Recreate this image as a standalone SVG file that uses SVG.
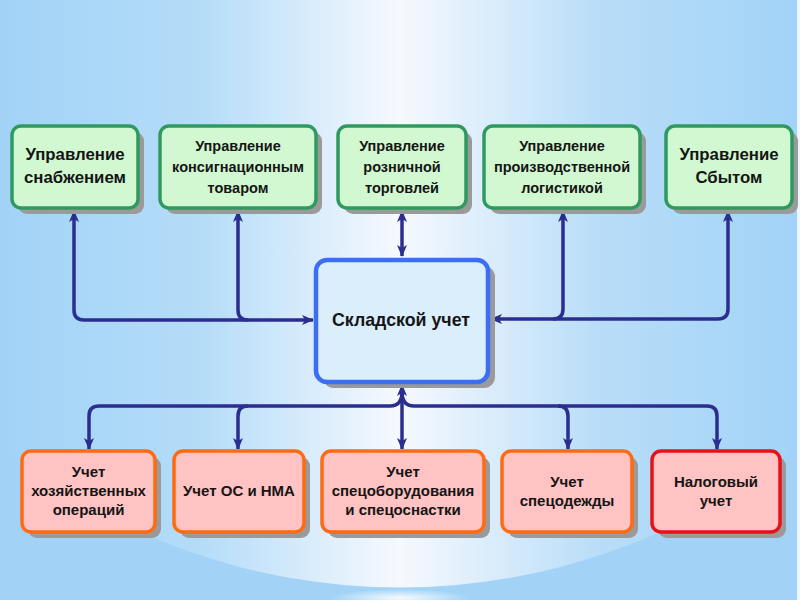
<svg xmlns="http://www.w3.org/2000/svg" width="800" height="600" viewBox="0 0 800 600">
<defs>
  <linearGradient id="bg" x1="0" y1="0" x2="1" y2="0">
    <stop offset="0" stop-color="#a2d3f7"/>
    <stop offset="0.25" stop-color="#b4dcf8"/>
    <stop offset="0.5" stop-color="#f6f9fe"/>
    <stop offset="0.75" stop-color="#b8ddf8"/>
    <stop offset="1" stop-color="#a2d3f7"/>
  </linearGradient>
  <radialGradient id="glow" cx="0.5" cy="0.5" r="0.5">
    <stop offset="0" stop-color="#ffffff" stop-opacity="0.9"/>
    <stop offset="1" stop-color="#ffffff" stop-opacity="0"/>
  </radialGradient>
  <marker id="ah" viewBox="0 0 12 10" refX="11" refY="5" markerWidth="12" markerHeight="10" markerUnits="userSpaceOnUse" orient="auto-start-reverse">
    <path d="M0,0 L12,5 L0,10 L3,5 z" fill="#2b2e90"/>
  </marker>
  <style>
    .shadow { fill: #9a9a9a; }
    .top { fill: #d2f8d2; stroke: #2f9a60; stroke-width: 3.5; }
    .mid { fill: #dbeefc; stroke: #3b6ef5; stroke-width: 4.5; }
    .bot { fill: #ffc3c3; stroke: #ff6a12; stroke-width: 3.5; }
    .botred { fill: #ffc3c3; stroke: #ea0f18; stroke-width: 3.5; }
    .t { font-family: "Liberation Sans", Arial, sans-serif; font-weight: bold; fill: #151515; text-anchor: middle; }
    .t14 { font-size: 14.5px; }
    .t15 { font-size: 16.8px; }
    .t16 { font-size: 17.8px; }
    .b14 { font-size: 15px; }
    .conn { fill: none; stroke: #2b2e90; stroke-width: 3.5; }
  </style>
</defs>

<!-- background -->
<rect x="0" y="0" width="800" height="600" fill="#a2d3f7"/>
<path d="M0,0 H800 V446 A636,636 0 0 1 0,446 Z" fill="url(#bg)"/>
<ellipse cx="400" cy="598" rx="70" ry="9" fill="url(#glow)"/>
<rect x="797" y="0" width="3" height="600" fill="#eef6fe"/>

<!-- connectors -->
<g id="connectors">
  <path class="conn" d="M74,211 V310 Q74,320 84,320 H313" marker-start="url(#ah)" marker-end="url(#ah)"/>
  <path class="conn" d="M238,211 V310 Q238,320 248,320" marker-start="url(#ah)"/>
  <path class="conn" d="M728,211 V309 Q728,319 718,319 H491" marker-start="url(#ah)" marker-end="url(#ah)"/>
  <path class="conn" d="M563,211 V309 Q563,319 553,319" marker-start="url(#ah)"/>
  <path class="conn" d="M402,211 V256" marker-start="url(#ah)" marker-end="url(#ah)"/>
  <path class="conn" d="M402,385 V449" marker-start="url(#ah)" marker-end="url(#ah)"/>
  <path class="conn" d="M402,392 Q402,406 390,406 H99 Q89,406 89,416 V449" marker-end="url(#ah)"/>
  <path class="conn" d="M248,406 Q238,406 238,416 V449" marker-end="url(#ah)"/>
  <path class="conn" d="M402,392 Q402,406 414,406 H707 Q717,406 717,416 V449" marker-end="url(#ah)"/>
  <path class="conn" d="M558,406 Q568,406 568,416 V449" marker-end="url(#ah)"/>
</g>

<!-- top row -->
<g id="n-snab">
  <rect class="shadow" x="18" y="132" width="126" height="82" rx="9"/>
  <rect class="top" x="12" y="126" width="126" height="82" rx="9"/>
  <text class="t t15" x="75" y="160">Управление</text>
  <text class="t t15" x="75" y="183">снабжением</text>
</g>
<g id="n-konsig">
  <rect class="shadow" x="166" y="132" width="156" height="82" rx="9"/>
  <rect class="top" x="160" y="126" width="156" height="82" rx="9"/>
  <text class="t t14" x="238" y="151">Управление</text>
  <text class="t t14" x="238" y="172">консигнационным</text>
  <text class="t t14" x="238" y="193">товаром</text>
</g>
<g id="n-rozn">
  <rect class="shadow" x="344" y="132" width="128" height="82" rx="9"/>
  <rect class="top" x="338" y="126" width="128" height="82" rx="9"/>
  <text class="t t14" x="402" y="151">Управление</text>
  <text class="t t14" x="402" y="172">розничной</text>
  <text class="t t14" x="402" y="193">торговлей</text>
</g>
<g id="n-proizv">
  <rect class="shadow" x="490" y="132" width="156" height="82" rx="9"/>
  <rect class="top" x="484" y="126" width="156" height="82" rx="9"/>
  <text class="t t14" x="562" y="151">Управление</text>
  <text class="t t14" x="562" y="172">производственной</text>
  <text class="t t14" x="562" y="193">логистикой</text>
</g>
<g id="n-sbyt">
  <rect class="shadow" x="672" y="132" width="126" height="82" rx="9"/>
  <rect class="top" x="666" y="126" width="126" height="82" rx="9"/>
  <text class="t t15" x="729" y="160">Управление</text>
  <text class="t t15" x="729" y="183">Сбытом</text>
</g>

<!-- center -->
<g id="n-sklad">
  <rect class="shadow" x="323" y="266" width="172" height="122" rx="11"/>
  <rect class="mid" x="316" y="260" width="172" height="122" rx="11"/>
  <text class="t t16" x="401" y="326">Складской учет</text>
</g>

<!-- bottom row -->
<g id="n-hoz">
  <rect class="shadow" x="28" y="457" width="133" height="81" rx="9"/>
  <rect class="bot" x="22" y="451" width="133" height="81" rx="9"/>
  <text class="t b14" x="88.5" y="477">Учет</text>
  <text class="t b14" x="88.5" y="496">хозяйственных</text>
  <text class="t b14" x="88.5" y="515">операций</text>
</g>
<g id="n-os">
  <rect class="shadow" x="180" y="457" width="130" height="81" rx="9"/>
  <rect class="bot" x="174" y="451" width="130" height="81" rx="9"/>
  <text class="t b14" x="239" y="496">Учет ОС и НМА</text>
</g>
<g id="n-speco">
  <rect class="shadow" x="328" y="457" width="162" height="81" rx="9"/>
  <rect class="bot" x="322" y="451" width="162" height="81" rx="9"/>
  <text class="t b14" x="403" y="477">Учет</text>
  <text class="t b14" x="403" y="496">спецоборудования</text>
  <text class="t b14" x="403" y="515">и спецоснастки</text>
</g>
<g id="n-odezh">
  <rect class="shadow" x="508" y="457" width="130" height="81" rx="9"/>
  <rect class="bot" x="502" y="451" width="130" height="81" rx="9"/>
  <text class="t b14" x="567" y="487">Учет</text>
  <text class="t b14" x="567" y="506">спецодежды</text>
</g>
<g id="n-nalog">
  <rect class="shadow" x="658" y="457" width="128" height="81" rx="9"/>
  <rect class="botred" x="652" y="451" width="128" height="81" rx="9"/>
  <text class="t b14" x="716" y="487">Налоговый</text>
  <text class="t b14" x="716" y="506">учет</text>
</g>
</svg>
